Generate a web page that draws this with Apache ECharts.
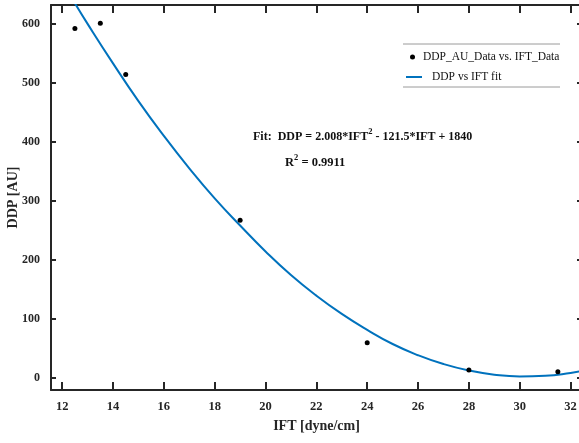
<!DOCTYPE html>
<html>
<head>
<meta charset="utf-8">
<script src="https://cdn.jsdelivr.net/npm/echarts@6/dist/echarts.min.js"></script>
<style>
html,body{margin:0;padding:0;background:#fff;}
#chart{width:579px;height:443px;}
</style>
</head>
<body>
<div id="chart"></div>
<script>
const iftData = [12.5, 13.5, 14.5, 19, 24, 28, 31.5];
const ddpData = [592, 601, 514, 267, 59, 13, 10];

// Fit curve
const fitX = [12.5, 13, 14, 15, 16, 17, 18, 19, 20, 21, 22, 23, 24, 25, 26, 27, 28, 29, 30, 31, 32, 32.5];
const fitY = [635, 600, 533, 469, 410, 355, 304, 258, 214, 174, 139, 108, 81, 57, 38, 23, 12, 5, 2, 3, 8, 12];

const xTicks = [12, 14, 16, 18, 20, 22, 24, 26, 28, 30, 32];
const yTicks = [0, 100, 200, 300, 400, 500, 600];

const xTitle = 'IFT [dyne/cm]';
const yTitle = 'DDP [AU]';
const dataName = 'DDP_AU_Data vs. IFT_Data';
const fitName = 'DDP vs IFT fit';

const FONT = '"Liberation Serif", "Times New Roman", serif';
const AX = '#262626';

const chart = echarts.init(document.getElementById('chart'));

const baseX = {
  type: 'value', min: 11.56, max: 32.45,
  axisLine: {show: true, onZero: false, lineStyle: {color: AX, width: 2}},
  splitLine: {show: false},
};
const baseY = {
  type: 'value', min: -21, max: 632,
  axisLine: {show: true, onZero: false, lineStyle: {color: AX, width: 2}},
  splitLine: {show: false},
};

chart.setOption({
  animation: false,
  backgroundColor: '#fff',
  grid: {left: 51, top: 5, right: -3, bottom: 53, containLabel: false, outerBoundsMode: 'none'},
  xAxis: [
    Object.assign({}, baseX, {
      position: 'bottom',
      name: xTitle, nameLocation: 'middle', nameGap: 29, nameMoveOverlap: false,
      nameTextStyle: {fontFamily: FONT, fontSize: 14, fontWeight: 'bold', color: AX},
      axisTick: {show: true, inside: true, length: 8, lineStyle: {color: AX, width: 2}, customValues: xTicks},
      axisLabel: {show: true, margin: 10, fontFamily: FONT, fontSize: 12.5, fontWeight: 'bold', color: AX, customValues: xTicks}
    }),
    Object.assign({}, baseX, {
      position: 'top',
      axisTick: {show: true, inside: true, length: 8, lineStyle: {color: AX, width: 2}, customValues: xTicks},
      axisLabel: {show: false}
    })
  ],
  yAxis: [
    Object.assign({}, baseY, {
      position: 'left',
      name: yTitle, nameLocation: 'middle', nameGap: 31, nameMoveOverlap: false,
      nameTextStyle: {fontFamily: FONT, fontSize: 14, fontWeight: 'bold', color: AX},
      axisTick: {show: true, inside: true, length: 5, lineStyle: {color: AX, width: 2}, customValues: yTicks},
      axisLabel: {show: true, margin: 11, fontFamily: FONT, fontSize: 12, fontWeight: 'bold', color: AX, customValues: yTicks}
    }),
    Object.assign({}, baseY, {
      position: 'right',
      axisTick: {show: true, inside: true, length: 5, lineStyle: {color: AX, width: 2}, customValues: yTicks},
      axisLabel: {show: false}
    })
  ],
  legend: [
    {
      data: [dataName], left: 410, top: 51, padding: 0,
      itemWidth: 5, itemHeight: 5,
      textStyle: {fontFamily: FONT, fontSize: 11.5, color: '#111', padding: [0, 0, 0, 3]}
    },
    {
      data: [{name: fitName, icon: 'rect'}], left: 406, top: 71, padding: 0,
      itemWidth: 16, itemHeight: 2,
      textStyle: {fontFamily: FONT, fontSize: 11.5, color: '#111', padding: [0, 0, 0, 5]}
    }
  ],
  graphic: [
    {type: 'line', shape: {x1: 403, y1: 44, x2: 560, y2: 44}, style: {stroke: '#9a9a9a', lineWidth: 1}},
    {type: 'line', shape: {x1: 403, y1: 87, x2: 560, y2: 87}, style: {stroke: '#9a9a9a', lineWidth: 1}},
    {
      type: 'text', left: 253, top: 127,
      style: {
        text: '{m|Fit:  DDP = 2.008*IFT}{s|2}{m| - 121.5*IFT + 1840}',
        rich: {
          m: {fontFamily: FONT, fontSize: 12, fontWeight: 'bold', fill: '#111', verticalAlign: 'bottom', lineHeight: 16},
          s: {fontFamily: FONT, fontSize: 8.5, fontWeight: 'bold', fill: '#111', verticalAlign: 'top', lineHeight: 16}
        }
      }
    },
    {
      type: 'text', left: 285, top: 153,
      style: {
        text: '{m|R}{s|2}{m| = 0.9911}',
        rich: {
          m: {fontFamily: FONT, fontSize: 12.5, fontWeight: 'bold', fill: '#111', verticalAlign: 'bottom', lineHeight: 16},
          s: {fontFamily: FONT, fontSize: 8.5, fontWeight: 'bold', fill: '#111', verticalAlign: 'top', lineHeight: 16}
        }
      }
    }
  ],
  series: [
    {
      name: dataName, type: 'scatter',
      xAxisIndex: 0, yAxisIndex: 0,
      symbol: 'circle', symbolSize: 5,
      itemStyle: {color: '#000', opacity: 1},
      data: iftData.map((x, i) => [x, ddpData[i]]),
      z: 3
    },
    {
      name: fitName, type: 'line',
      xAxisIndex: 0, yAxisIndex: 0,
      smooth: true, symbol: 'none', clip: true,
      lineStyle: {color: '#0072BD', width: 2},
      itemStyle: {color: '#0072BD'},
      data: fitX.map((x, i) => [x, fitY[i]]),
      z: 2
    }
  ]
});
</script>
</body>
</html>
